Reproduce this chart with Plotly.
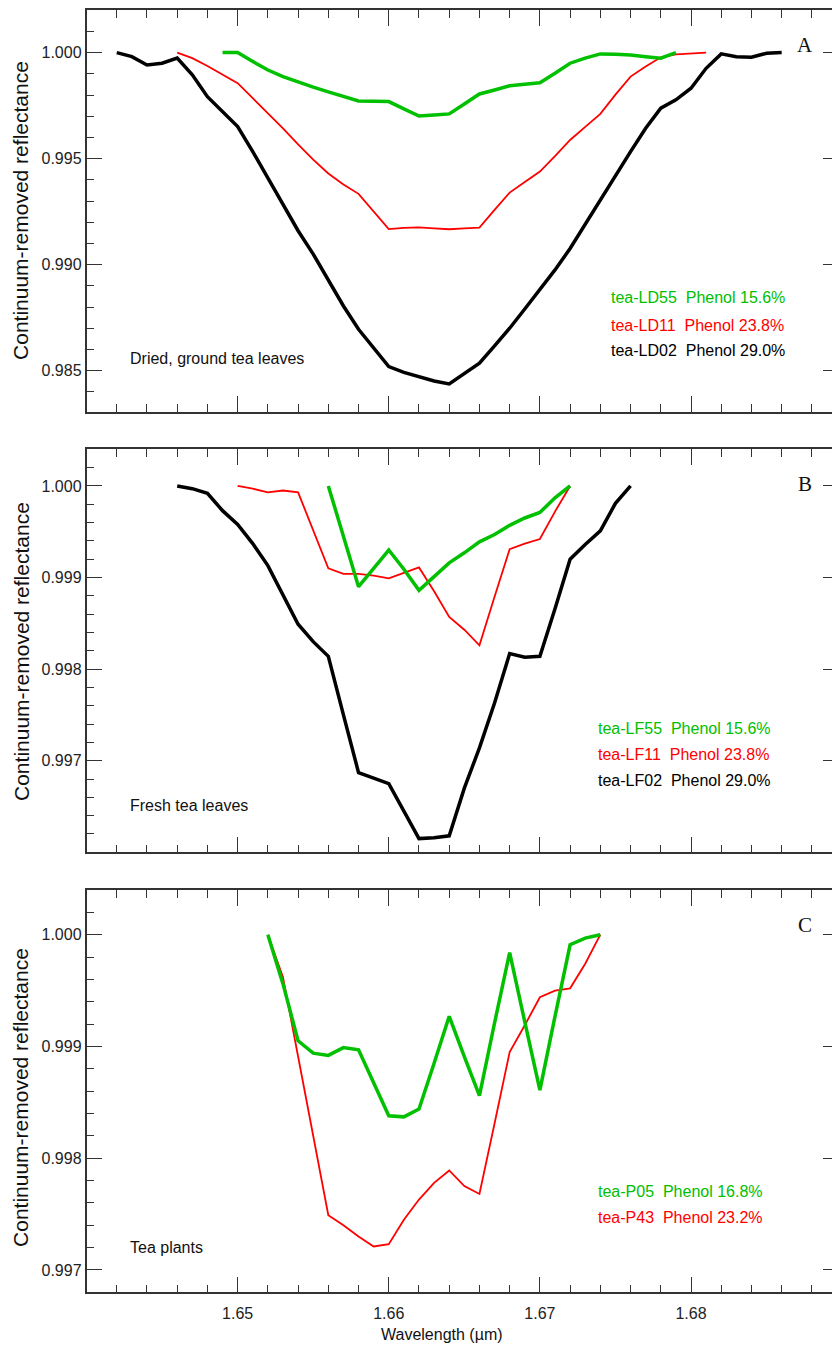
import plotly.graph_objects as go

# ---------------------------------------------------------------------------
# Continuum-removed reflectance around the 1.66 µm phenol feature.
# Spectra are sampled every 1 nm; each series lists its first wavelength (nm)
# and the reflectance values that follow.
# ---------------------------------------------------------------------------

# Panel A: dried, ground tea leaves
LD55_START = 1649
ld55 = [1.00000, 1.00000, 0.99958, 0.99918, 0.99887, 0.99861, 0.99837, 0.99815,
        0.99793, 0.99772, 0.99771, 0.99769, 0.99735, 0.99701, 0.99706, 0.99711,
        0.99758, 0.99805, 0.99824, 0.99844, 0.99851, 0.99858, 0.99903, 0.99950,
        0.99974, 0.99994, 0.99992, 0.99989, 0.99981, 0.99974, 1.00000]
LD11_START = 1646
ld11 = [1.00000, 0.99974, 0.99937, 0.99895, 0.99856, 0.99785, 0.99714, 0.99643,
        0.99567, 0.99495, 0.99430, 0.99378, 0.99334, 0.99252, 0.99168, 0.99173,
        0.99176, 0.99171, 0.99167, 0.99171, 0.99175, 0.99258, 0.99340, 0.99390,
        0.99439, 0.99512, 0.99588, 0.99650, 0.99711, 0.99802, 0.99887, 0.99934,
        0.99978, 0.99992, 0.99997, 1.00000]
LD02_START = 1642
ld02 = [1.00000, 0.99981, 0.99942, 0.99950, 0.99974, 0.99895, 0.99792, 0.99722,
        0.99651, 0.99533, 0.99408, 0.99282, 0.99160, 0.99050, 0.98927, 0.98805,
        0.98695, 0.98607, 0.98519, 0.98492, 0.98470, 0.98451, 0.98437, 0.98484,
        0.98535, 0.98617, 0.98700, 0.98791, 0.98881, 0.98975, 0.99076, 0.99192,
        0.99307, 0.99423, 0.99533, 0.99643, 0.99738, 0.99777, 0.99832, 0.99926,
        0.99994, 0.99981, 0.99978, 0.99997, 1.00000]

# Panel B: fresh tea leaves
LF55_START = 1656
lf55 = [1.00000, 0.99945, 0.99890, 0.99910, 0.99930, 0.99909, 0.99886, 0.99901,
        0.99916, 0.99927, 0.99939, 0.99947, 0.99957, 0.99965, 0.99971, 0.99987,
        1.00000]
LF11_START = 1650
lf11 = [1.00000, 0.99997, 0.99993, 0.99995, 0.99993, 0.99952, 0.99910, 0.99904,
        0.99904, 0.99902, 0.99899, 0.99905, 0.99911, 0.99885, 0.99857, 0.99843,
        0.99826, 0.99879, 0.99931, 0.99937, 0.99942, 0.99972, 1.00000]
LF02_START = 1646
lf02 = [1.00000, 0.99997, 0.99992, 0.99973, 0.99958, 0.99937, 0.99913, 0.99882,
        0.99849, 0.99830, 0.99814, 0.99750, 0.99687, 0.99681, 0.99675, 0.99645,
        0.99615, 0.99616, 0.99618, 0.99670, 0.99714, 0.99763, 0.99817, 0.99813,
        0.99814, 0.99866, 0.99920, 0.99936, 0.99951, 0.99981, 1.00000]

# Panel C: tea plants
P05_START = 1652
p05 = [1.00000, 0.99956, 0.99905, 0.99894, 0.99892, 0.99899, 0.99897, 0.99867,
       0.99838, 0.99837, 0.99844, 0.99885, 0.99927, 0.99891, 0.99856, 0.99921,
       0.99984, 0.99922, 0.99861, 0.99927, 0.99991, 0.99997, 1.00000]
P43_START = 1652
p43 = [1.00000, 0.99962, 0.99891, 0.99819, 0.99749, 0.99740, 0.99730, 0.99721,
       0.99723, 0.99745, 0.99763, 0.99778, 0.99789, 0.99775, 0.99768, 0.99831,
       0.99895, 0.99919, 0.99944, 0.99950, 0.99952, 0.99974, 1.00000]

# Legend lines and panel captions
legend_a = ["tea-LD55\u00a0\u00a0Phenol 15.6%", "tea-LD11\u00a0\u00a0Phenol 23.8%",
            "tea-LD02\u00a0\u00a0Phenol 29.0%"]
legend_b = ["tea-LF55\u00a0\u00a0Phenol 15.6%", "tea-LF11\u00a0\u00a0Phenol 23.8%",
            "tea-LF02\u00a0\u00a0Phenol 29.0%"]
legend_c = ["tea-P05\u00a0\u00a0Phenol 16.8%", "tea-P43\u00a0\u00a0Phenol 23.2%"]
captions = ["Dried, ground tea leaves", "Fresh tea leaves", "Tea plants"]
letters = ["A", "B", "C"]

x_ticks = [1.65, 1.66, 1.67, 1.68]
y_ticks_a = [0.985, 0.990, 0.995, 1.000]
y_ticks_bc = [0.997, 0.998, 0.999, 1.000]

GREEN = "#00c000"
RED = "#ff0000"
BLACK = "#000000"
AXIS = "#333333"
FONT = "Liberation Sans, Arial, Helvetica, sans-serif"
SERIF = "Liberation Serif, Times New Roman, serif"


def wavelengths(start_nm, values):
    return [(start_nm + i) / 1000.0 for i in range(len(values))]


fig = go.Figure()

panels = [
    ("x", "y", [(ld02, LD02_START, BLACK, 3.5), (ld11, LD11_START, RED, 1.8),
                (ld55, LD55_START, GREEN, 3.5)]),
    ("x2", "y2", [(lf02, LF02_START, BLACK, 3.5), (lf11, LF11_START, RED, 1.8),
                  (lf55, LF55_START, GREEN, 3.5)]),
    ("x3", "y3", [(p43, P43_START, RED, 1.8), (p05, P05_START, GREEN, 3.5)]),
]
for xa, ya, series in panels:
    for vals, start, color, width in series:
        fig.add_trace(go.Scatter(
            x=wavelengths(start, vals), y=vals, mode="lines",
            line=dict(color=color, width=width), xaxis=xa, yaxis=ya,
            showlegend=False, hoverinfo="skip"))

X_DOMAIN = [0.104, 1.0]
X_RANGE = [1.64, 1.68933]
Y_DOMAINS = [[0.69413, 0.99258], [0.36726, 0.66645], [0.04061, 0.33927]]
Y_RANGES = [[0.98305, 1.00201], [0.99600, 1.00040], [0.99680, 1.00040]]
Y_MINOR = [0.001, 0.0002, 0.0002]
Y_MAJOR = [y_ticks_a, y_ticks_bc, y_ticks_bc]

tick_font = dict(family=FONT, size=16, color="#222222")

for i in range(3):
    sfx = "" if i == 0 else str(i + 1)
    fig.layout["xaxis" + sfx] = dict(
        domain=X_DOMAIN, range=X_RANGE, anchor="y" + sfx,
        tickmode="array", tickvals=x_ticks, tickformat=".2f",
        ticks="inside", ticklen=16, tickwidth=1.3, tickcolor=AXIS,
        showline=True, linecolor=AXIS, linewidth=1.5, mirror="ticks",
        showgrid=False, zeroline=False, showticklabels=(i == 2),
        tickfont=tick_font, ticklabelstandoff=6,
        minor=dict(tickmode="linear", tick0=1.64, dtick=0.002, ticks="inside",
                   ticklen=8, tickwidth=1.3, tickcolor=AXIS, showgrid=False),
    )
    fig.layout["yaxis" + sfx] = dict(
        domain=Y_DOMAINS[i], range=Y_RANGES[i], anchor="x" + sfx,
        tickmode="array", tickvals=Y_MAJOR[i], tickformat=".3f",
        ticks="inside", ticklen=16, tickwidth=1.3, tickcolor=AXIS,
        showline=True, linecolor=AXIS, linewidth=1.5, mirror=False,
        showgrid=False, zeroline=False, tickfont=tick_font,
        minor=dict(tickmode="linear", tick0=0.98, dtick=Y_MINOR[i], ticks="inside",
                   ticklen=8, tickwidth=1.3, tickcolor=AXIS, showgrid=False),
    )
    # right-hand major ticks on an overlaid axis
    right = "yaxis" + str(i + 4)
    fig.layout[right] = dict(
        overlaying="y" + sfx, anchor="x" + sfx, side="right",
        range=Y_RANGES[i], tickmode="array", tickvals=Y_MAJOR[i],
        ticks="inside", ticklen=9, tickwidth=1.3, tickcolor=AXIS,
        showticklabels=False, showline=False, showgrid=False, zeroline=False,
    )
    # empty trace so the overlaid axis is rendered
    fig.add_trace(go.Scatter(x=[], y=[], mode="lines", xaxis="x" + sfx,
                             yaxis="y" + str(i + 4), showlegend=False,
                             hoverinfo="skip"))

annotations = []
legends = [(legend_a, [GREEN, RED, BLACK], [0.2856, 0.2164, 0.1540], 0.701),
           (legend_b, [GREEN, RED, BLACK], [0.3077, 0.2432, 0.1794], 0.683),
           (legend_c, [GREEN, RED], [0.2500, 0.1864], 0.683)]
caption_y = [0.1336, 0.1156, 0.1119]
letter_y = [0.913, 0.915, 0.912]
title_y = [0.8441, 0.5167, 0.1856]

for i in range(3):
    sfx = "" if i == 0 else str(i + 1)
    xr, yr = "x" + sfx + " domain", "y" + sfx + " domain"
    lines, colors, ys, lx = legends[i]
    for text, color, ly in zip(lines, colors, ys):
        annotations.append(dict(text=text, xref=xr, yref=yr, x=lx, y=ly,
                                xanchor="left", yanchor="middle", showarrow=False,
                                font=dict(family=FONT, size=16, color=color)))
    annotations.append(dict(text=captions[i], xref=xr, yref=yr, x=0.0554,
                            y=caption_y[i], xanchor="left", yanchor="middle",
                            showarrow=False,
                            font=dict(family=FONT, size=16, color="#111111")))
    annotations.append(dict(text=letters[i], xref=xr, yref=yr, x=0.9638,
                            y=letter_y[i], xanchor="center", yanchor="middle",
                            showarrow=False,
                            font=dict(family=SERIF, size=21, color="#111111")))
    annotations.append(dict(text="Continuum-removed reflectance", xref="paper",
                            yref="paper", x=0.0252, y=title_y[i], textangle=-90,
                            xanchor="center", yanchor="middle", showarrow=False,
                            font=dict(family=FONT, size=21, color="#111111")))

annotations.append(dict(text="Wavelength (\u00b5m)", xref="paper", yref="paper",
                        x=0.5312, y=0.00965, xanchor="center", yanchor="middle",
                        showarrow=False,
                        font=dict(family=FONT, size=16, color="#111111")))

fig.update_layout(
    width=832, height=1347,
    margin=dict(l=0, r=0, t=0, b=0, autoexpand=False),
    paper_bgcolor="white", plot_bgcolor="white",
    annotations=annotations, showlegend=False,
)

fig.write_html("out.html")
